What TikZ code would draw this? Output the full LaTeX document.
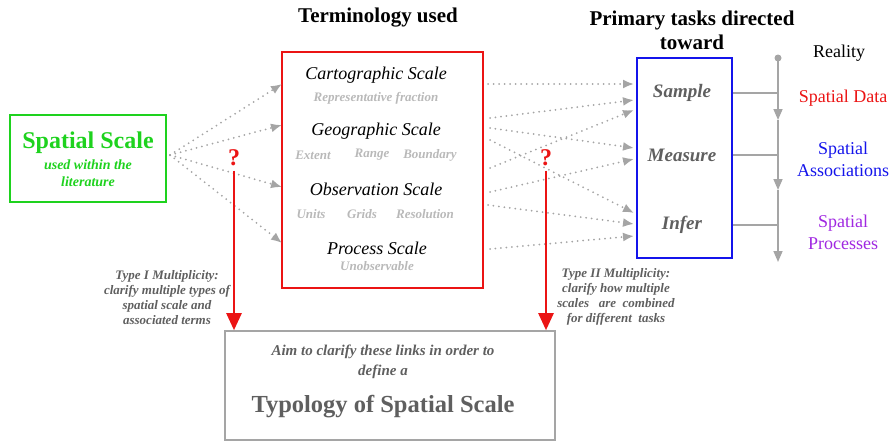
\documentclass[tikz,border=0pt]{standalone}
\usepackage{fontspec}
\setmainfont{Liberation Serif}
\usepackage{tikz}
\usetikzlibrary{arrows.meta,positioning}
\definecolor{scalegreen}{RGB}{30,210,30}
\definecolor{termred}{RGB}{235,20,20}
\definecolor{taskblue}{RGB}{20,20,235}
\definecolor{linkgray}{RGB}{165,165,165}
\definecolor{subgray}{RGB}{185,185,185}
\definecolor{darkgray}{RGB}{95,95,95}
\definecolor{procpurple}{RGB}{160,40,225}
\tikzstyle{box}=[draw,minimum width=#1,inner sep=0]
\tikzstyle{title}=[font=\fontsize{21}{24}\selectfont\bfseries,align=center]
\tikzstyle{term}=[font=\fontsize{18}{20}\selectfont\itshape]
\tikzstyle{sub}=[font=\fontsize{13}{15}\selectfont\bfseries\itshape,text=subgray]
\tikzstyle{task}=[font=\fontsize{19}{21}\selectfont\bfseries\itshape,text=darkgray]
\tikzstyle{note}=[font=\fontsize{13}{15}\selectfont\bfseries\itshape,text=darkgray,align=center]
\tikzstyle{real}=[font=\fontsize{18}{22}\selectfont,align=center]
\tikzstyle{link}=[draw=linkgray,line width=2pt,line cap=round,dash pattern=on 0pt off 5.5pt,
                 -{Latex[length=11pt,width=9pt]}]
\tikzstyle{qarrow}=[draw=termred,line width=2.5pt,-{Triangle[length=17pt,width=15pt]}]
\tikzstyle{spine}=[draw=linkgray,line width=1.6pt]

\begin{document}
\begin{tikzpicture}[x=1pt,y=-1pt]
\path[use as bounding box] (0,0) rectangle (896,442);

% boxes
\node[box=156,minimum height=87,draw=scalegreen,line width=2.8pt] (spatial) at (88,158.5) {};
\node[box=201,minimum height=236,draw=termred,line width=2.4pt] (terms) at (382.5,170) {};
\node[box=95,minimum height=200,draw=taskblue,line width=2.6pt] (tasks) at (684.5,158) {};
\node[box=330,minimum height=109,draw=linkgray,line width=1.6pt] (typo) at (390,385.5) {};

% titles
\node[title] (termtitle) at (378,18) {Terminology used};
\node[title] (tasktitle) at (692,30) {Primary tasks directed\\toward};

% spatial scale
\node[font=\fontsize{24}{26}\selectfont\bfseries,text=scalegreen] (sstitle) at (88,143) {Spatial Scale};
\node[font=\fontsize{14}{17}\selectfont\bfseries\itshape,text=scalegreen,align=center]
  (ssused) at (88,173) {used within the\\literature};

% terminology
\node[term] (carto) at (376,75) {Cartographic Scale};
\node[sub] (cartosub) at (376,98) {Representative fraction};
\node[term] (geo) at (376,131) {Geographic Scale};
\node[sub] (extent) at (313,155) {Extent};
\node[sub] (range) at (372,155) {Range};
\node[sub] (boundary) at (430,155) {Boundary};
\node[term] (obs) at (376,189) {Observation Scale};
\node[sub] (units) at (311,214) {Units};
\node[sub] (grids) at (362,214) {Grids};
\node[sub] (resol) at (425,214) {Resolution};
\node[term] (proc) at (377,248) {Process Scale};
\node[sub] (unobs) at (377,266) {Unobservable};

% tasks
\node[task] (sample) at (682,93) {Sample};
\node[task] (measure) at (682,155) {Measure};
\node[task] (infer) at (682,225) {Infer};

% reality
\node[real] (reality) at (839,53) {Reality};
\node[real,text=termred] (sdata) at (843,98) {Spatial Data};
\node[real,text=taskblue] (sassoc) at (843,159) {Spatial\\Associations};
\node[real,text=procpurple] (sproc) at (843,232) {Spatial\\Processes};

% multiplicity
\node[font=\fontsize{24}{26}\selectfont\bfseries,text=termred] (q1) at (234,158) {?};
\node[font=\fontsize{24}{26}\selectfont\bfseries,text=termred] (q2) at (546,158) {?};
\node[note] (type1) at (167,297.5) {Type I Multiplicity:\\clarify multiple types of\\spatial scale and\\associated terms};
\node[note] (type2) at (616,296.5) {Type II Multiplicity:\\clarify how multiple\\scales \ \ are \ combined\\for different \ tasks};

% typology
\node[font=\fontsize{15}{20}\selectfont\bfseries\itshape,text=darkgray,align=center]
  (aim) at (383,362) {Aim to clarify these links in order to\\define a};
\node[font=\fontsize{24.5}{26}\selectfont\bfseries,text=darkgray] (typology) at (383,407) {Typology of Spatial Scale};

% link ends
\coordinate (fan) at (170,155);
\coordinate (l1) at (282,84);
\coordinate (l2) at (282,125);
\coordinate (l3) at (282,187);
\coordinate (l4) at (282,243);
\coordinate (r1) at (488,84);
\coordinate (r2) at (490,118);
\coordinate (r3) at (490,128);
\coordinate (r4) at (490,140);
\coordinate (r5) at (490,168);
\coordinate (r6) at (490,192);
\coordinate (r7) at (488,205);
\coordinate (r8) at (490,249);
\coordinate (s1) at (634,84);
\coordinate (s2) at (634,100);
\coordinate (s3) at (634,110);
\coordinate (m1) at (634,148);
\coordinate (m2) at (634,159);
\coordinate (i1) at (634,213);
\coordinate (i2) at (634,224);
\coordinate (i3) at (634,236);

\path[link] (fan) -- (l1);
\path[link] (fan) -- (l2);
\path[link] (fan) -- (l3);
\path[link] (fan) -- (l4);
\path[link] (r1) -- (s1);
\path[link] (r2) -- (s2);
\path[link] (r5) -- (s3);
\path[link] (r3) -- (m1);
\path[link] (r6) -- (m2);
\path[link] (r4) -- (i1);
\path[link] (r7) -- (i2);
\path[link] (r8) -- (i3);

% red arrows
\path[qarrow] ([yshift=-1pt]q1.south) -- (q1 |- typo.north);
\path[qarrow] ([yshift=-1pt]q2.south) -- (q2 |- typo.north);

% reality spine
\coordinate (ptop) at (778,58);
\coordinate (pa) at (778,120);
\coordinate (pb) at (778,190);
\coordinate (pc) at (778,262);
\fill[linkgray] (ptop) circle (3.5);
\path[spine,-{Triangle[length=11pt,width=9pt]}] (ptop) -- (pa);
\path[spine,-{Triangle[length=11pt,width=9pt]}] (pa) -- (pb);
\path[spine,-{Triangle[length=11pt,width=9pt]}] (pb) -- (pc);
\path[spine] (tasks.east |- sample) -- (ptop |- sample);
\path[spine] (tasks.east |- measure) -- (ptop |- measure);
\path[spine] (tasks.east |- infer) -- (ptop |- infer);
\end{tikzpicture}
\end{document}
